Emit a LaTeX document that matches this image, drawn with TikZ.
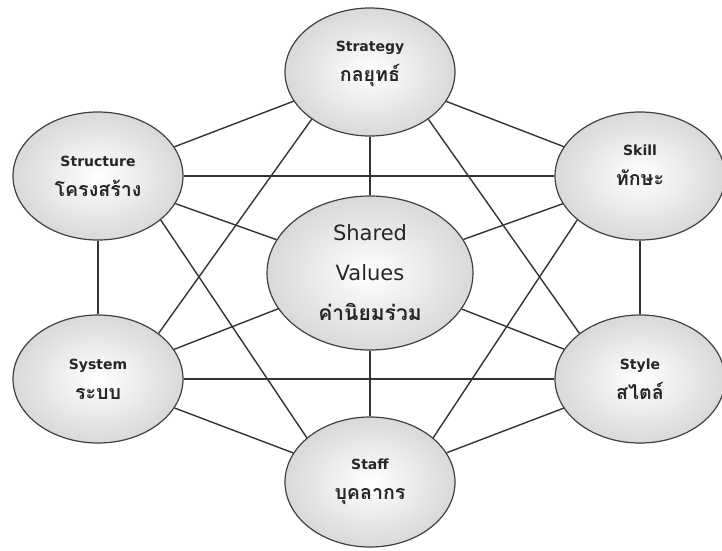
\documentclass[tikz,border=0pt]{standalone}
\usepackage{fontspec}
\setmainfont{DejaVu Sans}
\newfontfamily\thaifont[Script=Thai,Scale=1.4]{Loma}
\usetikzlibrary{shapes.geometric}
\tikzset{
  sev/.style={ellipse,draw=black!75,line width=1.2pt,inner color=white,outer color=black!15,
    minimum width=170pt,minimum height=128pt,align=center,text=black!85,
    font=\fontsize{14}{30}\selectfont\bfseries},
  core/.style={sev,minimum width=206pt,minimum height=154pt,font=\fontsize{21}{40}\selectfont},
  link/.style={draw=black!80,line width=1.4pt}
}
% raise the two lines a bit inside the ellipse
\newcommand{\liftup}[1]{\raisebox{8pt}[0pt][0pt]{\begin{tabular}{@{}c@{}}#1\end{tabular}}}

\begin{document}
\begin{tikzpicture}[x=1pt,y=-1pt]
\useasboundingbox (0,0) rectangle (722,550);
\node[sev] (strategy) at (370,72) {\liftup{Strategy\\\thaifont\bfseries กลยุทธ์}};
\node[sev] (structure) at (98,176) {Structure\\\thaifont\bfseries โครงสร้าง};
\node[sev] (skill) at (640,176) {\liftup{Skill\\\thaifont\bfseries ทักษะ}};
\node[core] (shared) at (370,273) {Shared\\Values\\\thaifont\bfseries\fontsize{15}{40}\selectfont ค่านิยมร่วม};
\node[sev] (system) at (98,379) {System\\\thaifont\bfseries ระบบ};
\node[sev] (style) at (640,379) {Style\\\thaifont\bfseries สไตล์};
\node[sev,minimum height=130pt] (staff) at (370,482) {Staff\\\thaifont\bfseries บุคลากร};
\path[link]
(strategy) edge (structure)
(strategy) edge (skill)
(strategy) edge (shared)
(strategy.219) edge (system.37)
(strategy.321) edge (style.143)
(structure) edge (skill)
(structure) edge (shared)
(structure) edge (system)
(structure.-35) edge (staff.145)
(skill) edge (shared)
(skill) edge (style)
(skill.215) edge (staff.35)
(system) edge (shared)
(system) edge (style)
(system) edge (staff)
(style) edge (shared)
(style) edge (staff)
(shared) edge (staff);
\end{tikzpicture}
\end{document}
